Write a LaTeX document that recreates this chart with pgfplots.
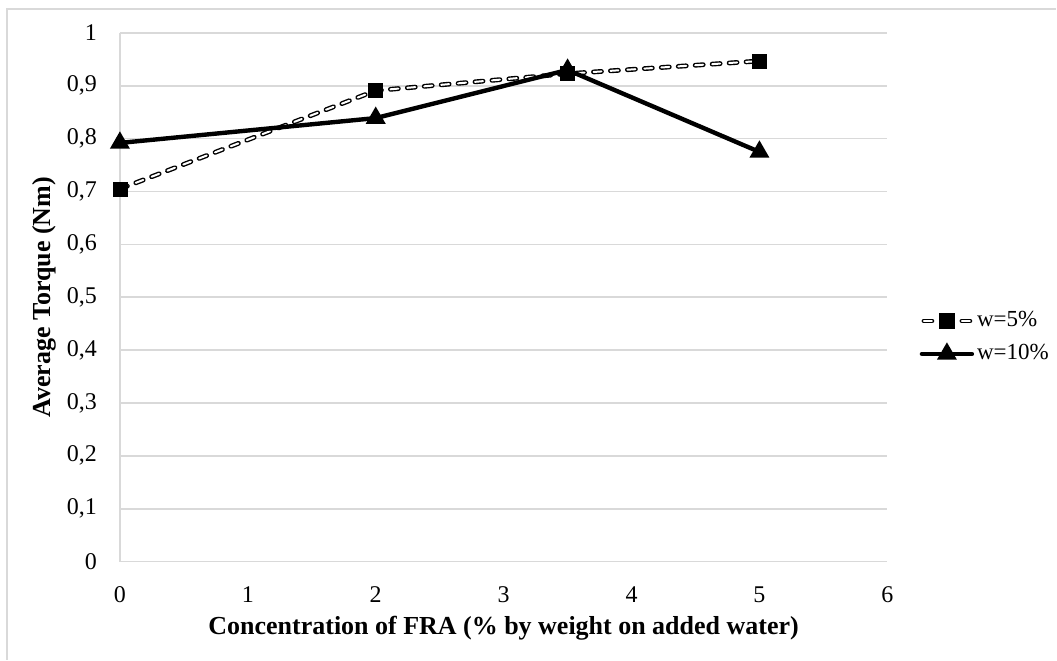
\documentclass[border=0pt]{standalone}
\usepackage{fontspec}
\setmainfont{Liberation Serif}
\usepackage{pgfplots}
\pgfplotsset{compat=1.18}
\definecolor{gridgray}{HTML}{D9D9D9}
\begin{document}
\begin{tikzpicture}
\begin{axis}[
  name=ax,
  scale only axis, width=384pt, height=264.5pt,
  xmin=0, xmax=6, ymin=0, ymax=1,
  xtick={0,1,2,3,4,5,6},
  xticklabels={0,1,2,3,4,5,6},
  ytick={0,0.1,0.2,0.3,0.4,0.5,0.6,0.7,0.8,0.9,1},
  yticklabels={0,{0,1},{0,2},{0,3},{0,4},{0,5},{0,6},{0,7},{0,8},{0,9},1},
  axis lines*=left,
  axis line style={draw=gridgray, line width=0.8pt, -},
  ymajorgrids, major grid style={draw=gridgray, line width=0.8pt},
  tick style={draw=none},
  xticklabel style={font=\fontsize{12}{14}\selectfont, yshift=-9pt},
  yticklabel style={font=\fontsize{12}{14}\selectfont, xshift=-8pt},
  xlabel={\textbf{Concentration of FRA (\% by weight on added water)}},
  ylabel={\textbf{Average Torque (Nm)}},
  label style={font=\fontsize{13}{15}\selectfont},
  xlabel style={at={(axis description cs:0.5,-0.127)}, anchor=center},
  ylabel style={at={(axis description cs:-0.098,0.5)}, anchor=center},
  clip=false,
  legend style={draw=none, fill=none, at={(axis description cs:1.0417,0.424)}, anchor=west,
    font=\fontsize{11.5}{14}\selectfont, row sep=3pt, inner sep=0pt,
    nodes={inner sep=1.5pt, text height=8pt, text depth=2.5pt}},
  legend cell align=left,
]
\addplot[forget plot, black, line width=2.4pt, line cap=round, dash pattern=on 4pt off 4.5pt]
  coordinates {(0,0.705) (2,0.891) (3.5,0.923) (5,0.947)};
\addplot[forget plot, white, line width=1.0pt, line cap=round, dash pattern=on 4pt off 4.5pt]
  coordinates {(0,0.705) (2,0.891) (3.5,0.923) (5,0.947)};
\addplot[only marks, mark=square*, mark size=3.5pt, black,
  legend image code/.code={
    \draw[black,line width=2.4pt,line cap=round] (1pt,0pt)--(5pt,0pt);
    \draw[white,line width=1.0pt,line cap=round] (1pt,0pt)--(5pt,0pt);
    \draw[black,line width=2.4pt,line cap=round] (20pt,0pt)--(24pt,0pt);
    \draw[white,line width=1.0pt,line cap=round] (20pt,0pt)--(24pt,0pt);
    \draw[black, fill=black, mark=square*, mark size=3.7pt] plot coordinates {(12.5pt,0pt)};
  }]
  coordinates {(0,0.705) (2,0.891) (3.5,0.923) (5,0.947)};
\addlegendentry{w=5\%}
\addplot[black, line width=2.2pt, mark=triangle*, mark size=3.6pt, mark options={solid},
  legend image code/.code={
    \draw[black, line width=2.2pt, line cap=round, mark=triangle*, mark size=3.6pt, mark repeat=2, mark phase=2]
      plot coordinates {(0pt,0pt) (12.5pt,0pt) (25pt,0pt)};
  }]
  coordinates {(0,0.792) (2,0.839) (3.5,0.930) (5,0.775)};
\addlegendentry{w=10\%}
\end{axis}
\draw[gridgray, line width=0.8pt] ([shift={(-56.5pt,-49pt)}]ax.south west) -- ([shift={(-56.5pt,276.5pt)}]ax.south west) -- ([shift={(468.5pt,276.5pt)}]ax.south west);
\path ([shift={(-60pt,-49pt)}]ax.south west) rectangle ([shift={(468.5pt,281pt)}]ax.south west);
\end{tikzpicture}
\end{document}
